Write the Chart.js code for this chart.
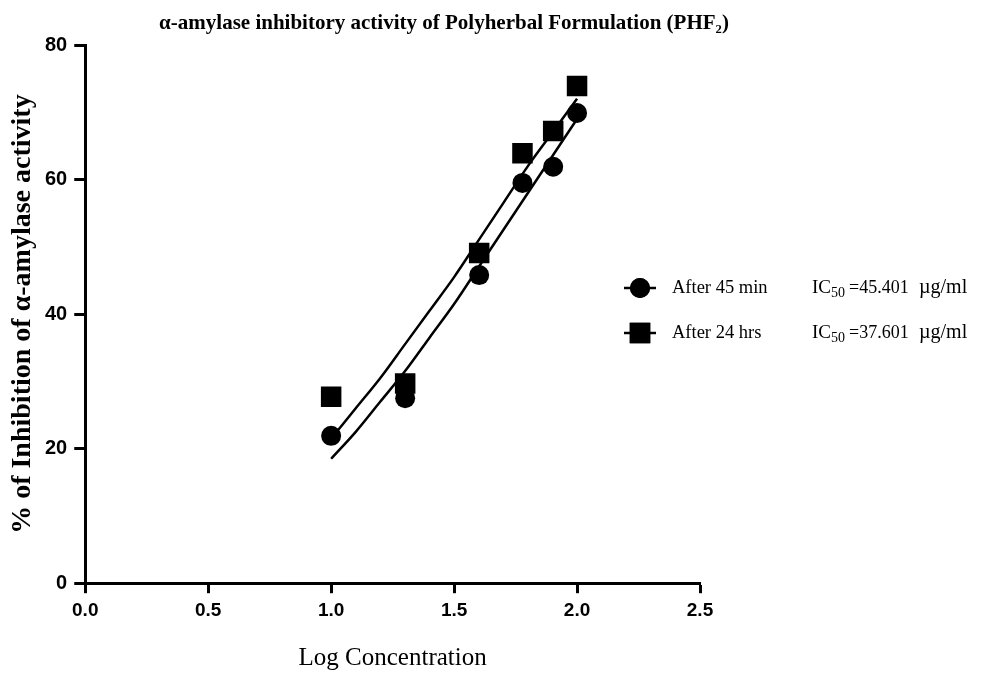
<!DOCTYPE html>
<html>
<head>
<meta charset="utf-8">
<script src="https://cdn.jsdelivr.net/npm/chart.js@4.4.1/dist/chart.umd.min.js"></script>
<style>
  html, body { margin: 0; padding: 0; background: #fff; }
  #wrap { width: 983px; height: 673px; }
</style>
</head>
<body>
<div id="wrap"><canvas id="amylaseChart" width="983" height="673"></canvas></div>
<script>
// measured points (log concentration vs % inhibition)
const logConc = [1.0, 1.301, 1.602, 1.778, 1.903, 2.0];
const after45min = [21.9, 27.5, 45.8, 59.5, 61.9, 69.9];
const after24hrs = [27.7, 29.7, 49.1, 63.9, 67.2, 73.9];

// fitted curves
const fitX = [1.0, 1.1, 1.2, 1.3, 1.4, 1.5, 1.6, 1.7, 1.8, 1.9, 2.0];
const fit45min = [18.5, 22.5, 27, 31.5, 36.5, 41.5, 47, 52.5, 58, 63.5, 69];
const fit24hrs = [21.5, 26, 30.5, 35.5, 40.5, 45.5, 51, 56.5, 62, 67, 72];

const seriesNames = ['After 45 min', 'After 24 hrs'];
const ic50Values = ['45.401', '37.601'];
const xTicks = [0, 0.5, 1.0, 1.5, 2.0, 2.5];
const yTicks = [0, 20, 40, 60, 80];
const chartTitle = '\u03b1-amylase inhibitory activity of Polyherbal Formulation (PHF\u2082)';

const serif = '"Liberation Serif", "Times New Roman", serif';
const toXY = (xs, ys) => xs.map((x, i) => ({ x: x, y: ys[i] }));

// title + legend with IC50 text, drawn on the canvas
const sideLegend = {
  id: 'sideLegend',
  afterDraw(chart) {
    const ctx = chart.ctx;
    const styles = ['circle', 'rect'];
    const radii = [10, 14.5];
    const rows = [288, 333];
    ctx.save();
    ctx.fillStyle = '#000';
    ctx.textAlign = 'center';
    ctx.textBaseline = 'alphabetic';
    ctx.font = 'bold 21px ' + serif;
    ctx.fillText(chartTitle, 444, 29);

    seriesNames.forEach((name, i) => {
      const y = rows[i];
      ctx.strokeStyle = '#000';
      ctx.lineWidth = 2.5;
      ctx.beginPath();
      ctx.moveTo(624, y);
      ctx.lineTo(656, y);
      ctx.stroke();
      ctx.fillStyle = '#000';
      Chart.helpers.drawPoint(ctx, { pointStyle: styles[i], radius: radii[i], borderWidth: 0 }, 640, y);
      ctx.fill();
      ctx.textBaseline = 'middle';
      ctx.textAlign = 'left';
      ctx.font = '18.5px ' + serif;
      ctx.fillText(name, 672, y);
      ctx.font = '19px ' + serif;
      ctx.fillText('IC', 812, y);
      ctx.font = '14px ' + serif;
      ctx.fillText('50', 831, y + 5);
      ctx.font = '18px ' + serif;
      ctx.fillText('=' + ic50Values[i], 849, y);
      ctx.font = '20px ' + serif;
      ctx.fillText('\u00b5g/ml', 919, y);
    });
    ctx.restore();
  }
};

const ctx = document.getElementById('amylaseChart').getContext('2d');
const amylaseChart = new Chart(ctx, {
  type: 'scatter',
  data: {
    datasets: [
      {
        label: seriesNames[0] + ' fit',
        data: toXY(fitX, fit45min),
        showLine: true,
        borderColor: '#000',
        borderWidth: 2.5,
        pointRadius: 0,
        cubicInterpolationMode: 'monotone'
      },
      {
        label: seriesNames[1] + ' fit',
        data: toXY(fitX, fit24hrs),
        showLine: true,
        borderColor: '#000',
        borderWidth: 2.5,
        pointRadius: 0,
        cubicInterpolationMode: 'monotone'
      },
      {
        label: seriesNames[0],
        data: toXY(logConc, after45min),
        pointStyle: 'circle',
        pointRadius: 10,
        backgroundColor: '#000',
        borderWidth: 0
      },
      {
        label: seriesNames[1],
        data: toXY(logConc, after24hrs),
        pointStyle: 'rect',
        pointRadius: 14.5,
        backgroundColor: '#000',
        borderWidth: 0
      }
    ]
  },
  options: {
    responsive: false,
    animation: false,
    devicePixelRatio: 1,
    layout: { padding: { left: 9, right: 283, top: 45, bottom: 0 } },
    plugins: {
      legend: { display: false },
      tooltip: { enabled: false },
      title: { display: false }
    },
    scales: {
      x: {
        type: 'linear',
        min: 0,
        max: 2.5,
        afterBuildTicks: (axis) => { axis.ticks = xTicks.map(v => ({ value: v })); },
        ticks: {
          color: '#000',
          font: { family: '"Liberation Sans", Arial, sans-serif', size: 19, weight: 'bold' },
          callback: (v) => Number(v).toFixed(1),
          padding: 6
        },
        grid: { drawOnChartArea: false, tickLength: 10, tickWidth: 3, tickColor: '#000' },
        border: { color: '#000', width: 3 },
        title: {
          display: true,
          text: 'Log Concentration',
          color: '#000',
          font: { family: serif, size: 25 },
          padding: { top: 15, bottom: 0 }
        }
      },
      y: {
        min: 0,
        max: 80,
        afterBuildTicks: (axis) => { axis.ticks = yTicks.map(v => ({ value: v })); },
        ticks: {
          color: '#000',
          font: { family: '"Liberation Sans", Arial, sans-serif', size: 20, weight: 'bold' },
          padding: 7
        },
        grid: { drawOnChartArea: false, tickLength: 11, tickWidth: 3, tickColor: '#000' },
        border: { color: '#000', width: 3 },
        title: {
          display: true,
          text: '% of Inhibition of \u03b1-amylase activity',
          color: '#000',
          font: { family: serif, size: 28, weight: 'bold', lineHeight: 1 },
          padding: { top: 0, bottom: 1 }
        }
      }
    }
  },
  plugins: [sideLegend]
});
</script>
</body>
</html>
